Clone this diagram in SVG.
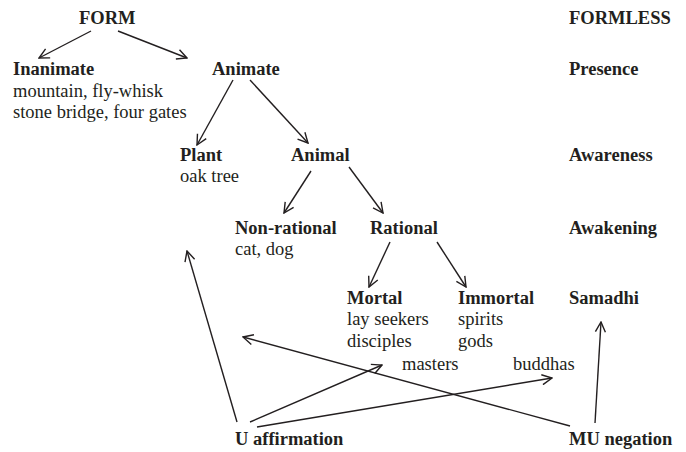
<svg xmlns="http://www.w3.org/2000/svg" width="686" height="452" viewBox="0 0 686 452">
<style>
text{font-family:"Liberation Serif","Times New Roman",serif;font-size:18.5px;fill:#231f20}
.b{font-weight:bold}
.c{stroke:#231f20;stroke-width:1.4;fill:none;marker-end:url(#ah)}
</style>
<defs>
<marker id="ah" viewBox="0 0 12 12" refX="11" refY="6" markerWidth="12" markerHeight="12" markerUnits="userSpaceOnUse" orient="auto">
<path d="M1,1 L11,6 L1,11" fill="none" stroke="#231f20" stroke-width="1.4"/>
</marker>
</defs>
<rect width="686" height="452" fill="#fff"/>
<g id="connectors">
<line class="c" x1="91" y1="31" x2="39" y2="58"/>
<line class="c" x1="118" y1="31" x2="187" y2="58"/>
<line class="c" x1="233" y1="80" x2="197" y2="145"/>
<line class="c" x1="250" y1="80" x2="308" y2="143"/>
<line class="c" x1="311" y1="171" x2="284" y2="213"/>
<line class="c" x1="349" y1="167" x2="383" y2="213"/>
<line class="c" x1="390" y1="242" x2="369" y2="287"/>
<line class="c" x1="437" y1="242" x2="466" y2="287"/>
<line class="c" x1="237" y1="422" x2="187" y2="251"/>
<line class="c" x1="250" y1="422" x2="382" y2="365"/>
<line class="c" x1="257" y1="427" x2="552" y2="378"/>
<line class="c" x1="570" y1="426" x2="243" y2="337"/>
<line class="c" x1="595" y1="423" x2="601" y2="322"/>
</g>
<g id="form"><text class="b" x="79" y="24">FORM</text></g>
<g id="formless"><text class="b" x="569" y="24">FORMLESS</text></g>
<g id="inanimate"><text class="b" x="13" y="75">Inanimate</text><text x="13" y="97">mountain, fly-whisk</text><text x="13" y="118">stone bridge, four gates</text></g>
<g id="animate"><text class="b" x="212" y="75">Animate</text></g>
<g id="presence"><text class="b" x="569" y="75">Presence</text></g>
<g id="plant"><text class="b" x="180" y="161">Plant</text><text x="180" y="182">oak tree</text></g>
<g id="animal"><text class="b" x="291" y="161">Animal</text></g>
<g id="awareness"><text class="b" x="569" y="161">Awareness</text></g>
<g id="nonrational"><text class="b" x="235" y="234">Non-rational</text><text x="235" y="255">cat, dog</text></g>
<g id="rational"><text class="b" x="370" y="234">Rational</text></g>
<g id="awakening"><text class="b" x="569" y="234">Awakening</text></g>
<g id="mortal"><text class="b" x="347" y="304">Mortal</text><text x="347" y="325">lay seekers</text><text x="347" y="347">disciples</text></g>
<g id="immortal"><text class="b" x="458" y="304">Immortal</text><text x="458" y="325">spirits</text><text x="458" y="347">gods</text></g>
<g id="samadhi"><text class="b" x="569" y="304">Samadhi</text></g>
<g id="masters"><text x="402" y="370">masters</text></g>
<g id="buddhas"><text x="513" y="370">buddhas</text></g>
<g id="u"><text class="b" x="235" y="445">U affirmation</text></g>
<g id="mu"><text class="b" x="569" y="445">MU negation</text></g>
</svg>
